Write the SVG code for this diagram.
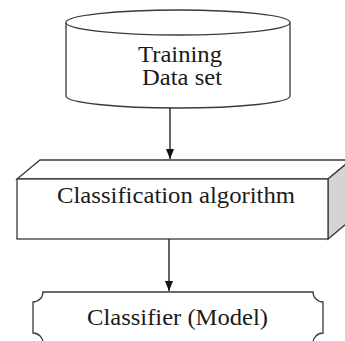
<svg xmlns="http://www.w3.org/2000/svg" width="345" height="341" viewBox="0 0 345 341">
<defs>
<style>
.sh{stroke:#3a3a3a;stroke-width:1.3;fill:#fff}
.side{stroke:#3a3a3a;stroke-width:1.3;fill:#d4d4d4}
.lbl{font-family:'Liberation Serif','Times New Roman',Times,serif;font-size:23px;fill:#1a1a1a;text-anchor:middle}
.con{stroke:#111;stroke-width:1.3;fill:none}
</style>
<marker id="ah" markerWidth="10" markerHeight="10" refX="10" refY="5" orient="auto" markerUnits="userSpaceOnUse">
<path d="M0,1 L10,5 L0,9 Z" fill="#111"/>
</marker>
</defs>
<rect width="345" height="341" fill="#fff"/>
<g id="training">
<path class="sh" d="M66,22.5 L66,96 A112,12 0 0 0 290,96 L290,22.5 A112,12.5 0 0 0 66,22.5 Z"/>
<path class="sh" d="M66,22.5 A112,12.5 0 0 0 290,22.5"/>
<text class="lbl" x="180" y="62" textLength="84" lengthAdjust="spacingAndGlyphs">Training</text>
<text class="lbl" x="182" y="85" textLength="80" lengthAdjust="spacingAndGlyphs">Data set</text>
</g>
<g id="algorithm">
<path class="sh" d="M17,179 L40,160 L351,160 L328,179 Z"/>
<path class="side" d="M328,179 L351,160 L351,220 L328,239 Z"/>
<rect class="sh" x="17" y="179" width="311" height="60"/>
<text class="lbl" x="176" y="203" textLength="238" lengthAdjust="spacingAndGlyphs">Classification algorithm</text>
</g>
<g id="classifier">
<path class="sh" d="M43,292 L313,292 A10,10 0 0 0 323,302 L323,333 A10,10 0 0 0 313,343 L43,343 A10,10 0 0 0 33,333 L33,302 A10,10 0 0 0 43,292 Z"/>
<text class="lbl" x="177.5" y="325" textLength="181" lengthAdjust="spacingAndGlyphs">Classifier (Model)</text>
</g>
<g id="connectors">
<line class="con" x1="170" y1="108" x2="170" y2="159" marker-end="url(#ah)"/>
<line class="con" x1="169" y1="239" x2="169" y2="291" marker-end="url(#ah)"/>
</g>
</svg>
